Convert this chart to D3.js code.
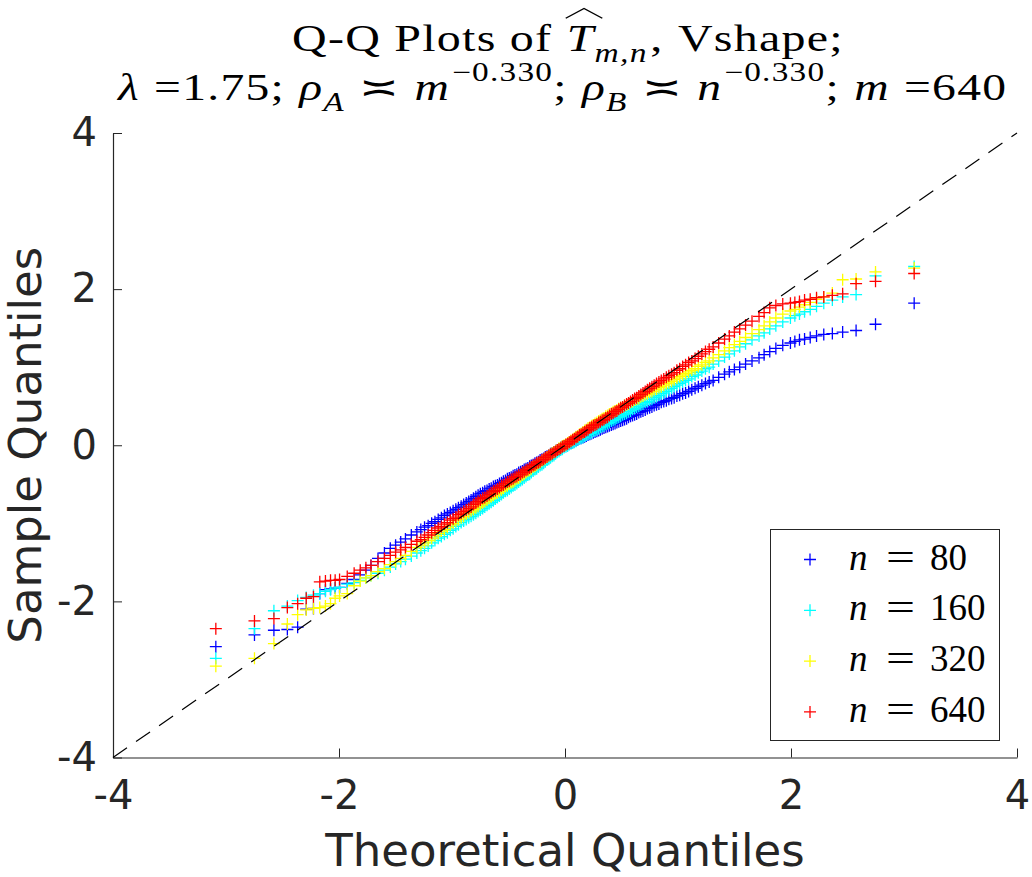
<!DOCTYPE html>
<html>
<head>
<meta charset="utf-8">
<script src="https://cdn.jsdelivr.net/npm/d3@7"></script>
<style>
  body { margin: 0; background: #fff; }
  svg { display: block; }
</style>
</head>
<body>
<svg id="chart"></svg>
<script>
/* global d3 */

// theoretical normal quantiles shared by the four samples (500 points each, thinned)
const theoretical = [
  -3.090, -2.748, -2.576, -2.457, -2.366, -2.290, -2.226, -2.170, -2.120, -2.075,
  -2.034, -1.995, -1.927, -1.866, -1.812, -1.762, -1.717, -1.655, -1.598, -1.546,
  -1.499, -1.454, -1.412, -1.360, -1.311,
  -1.276, -1.243, -1.211, -1.180, -1.151, -1.122, -1.094, -1.067, -1.041, -1.015, -0.990,
  -0.966, -0.943, -0.919, -0.897, -0.874, -0.852, -0.831, -0.810, -0.789, -0.769, -0.749,
  -0.729, -0.710, -0.690, -0.671, -0.653, -0.634, -0.616, -0.598, -0.580, -0.562, -0.545,
  -0.527, -0.510, -0.493, -0.476, -0.459, -0.443, -0.426, -0.410, -0.393, -0.377, -0.361,
  -0.345, -0.329, -0.313, -0.298, -0.282, -0.266, -0.251, -0.235, -0.220, -0.204, -0.189,
  -0.174, -0.159, -0.143, -0.128, -0.113, -0.098, -0.083, -0.068, -0.053, -0.038, -0.023,
  -0.008,
  0.008, 0.023, 0.038, 0.053, 0.068, 0.083, 0.098, 0.113, 0.128, 0.143, 0.159,
  0.174, 0.189, 0.204, 0.220, 0.235, 0.251, 0.266, 0.282, 0.298, 0.313, 0.329,
  0.345, 0.361, 0.377, 0.393, 0.410, 0.426, 0.443, 0.459, 0.476, 0.493, 0.510,
  0.527, 0.545, 0.562, 0.580, 0.598, 0.616, 0.634, 0.653, 0.671, 0.690, 0.710,
  0.729, 0.749, 0.769, 0.789, 0.810, 0.831, 0.852, 0.874, 0.897, 0.919, 0.943,
  0.966, 0.990, 1.015, 1.041, 1.067, 1.094, 1.122, 1.151, 1.180, 1.211, 1.243,
  1.276,
  1.311, 1.360, 1.412, 1.454, 1.499, 1.546, 1.598, 1.655, 1.717, 1.762,
  1.812, 1.866, 1.927, 1.995, 2.034, 2.075, 2.120, 2.170, 2.226, 2.290,
  2.366, 2.457, 2.576, 2.748, 3.090
]

// sample quantiles
const n80 = [
  -2.58, -2.43, -2.37, -2.36, -2.33, -2.10, -2.09, -1.90, -1.85, -1.84,
  -1.83, -1.82, -1.77, -1.72, -1.66, -1.60, -1.54, -1.45, -1.38, -1.32,
  -1.28, -1.24, -1.20, -1.15, -1.11,
  -1.08, -1.05, -1.03, -1.00, -0.98, -0.95, -0.93, -0.90, -0.88, -0.86, -0.84,
  -0.82, -0.80, -0.78, -0.76, -0.74, -0.72, -0.70, -0.68, -0.66, -0.64, -0.62,
  -0.61, -0.59, -0.58, -0.56, -0.55, -0.53, -0.52, -0.51, -0.49, -0.48, -0.46,
  -0.45, -0.43, -0.42, -0.41, -0.39, -0.38, -0.37, -0.35, -0.34, -0.33, -0.31,
  -0.30, -0.29, -0.27, -0.26, -0.25, -0.23, -0.22, -0.21, -0.19, -0.18, -0.17,
  -0.15, -0.14, -0.13, -0.11, -0.10, -0.09, -0.07, -0.06, -0.05, -0.03, -0.02,
  -0.01,
  0.00, 0.01, 0.02, 0.03, 0.04, 0.05, 0.06, 0.07, 0.08, 0.09, 0.10,
  0.11, 0.12, 0.13, 0.14, 0.15, 0.16, 0.17, 0.18, 0.19, 0.20, 0.21,
  0.22, 0.23, 0.24, 0.25, 0.26, 0.27, 0.28, 0.29, 0.30, 0.31, 0.32,
  0.33, 0.34, 0.36, 0.37, 0.38, 0.39, 0.40, 0.42, 0.43, 0.44, 0.45,
  0.47, 0.48, 0.49, 0.51, 0.52, 0.53, 0.55, 0.56, 0.57, 0.59, 0.60,
  0.61, 0.63, 0.64, 0.66, 0.67, 0.69, 0.71, 0.73, 0.75, 0.77, 0.79,
  0.81,
  0.83, 0.87, 0.91, 0.94, 0.97, 1.00, 1.04, 1.08, 1.12, 1.16,
  1.20, 1.24, 1.28, 1.31, 1.33, 1.35, 1.36, 1.38, 1.40, 1.42,
  1.43, 1.45, 1.47, 1.55, 1.82
]

const n160 = [
  -2.73, -2.35, -2.12, -2.06, -1.99, -1.95, -1.92, -1.90, -1.87, -1.85,
  -1.83, -1.82, -1.78, -1.76, -1.73, -1.70, -1.67, -1.64, -1.60, -1.56,
  -1.52, -1.49, -1.46, -1.42, -1.38,
  -1.35, -1.32, -1.29, -1.25, -1.22, -1.19, -1.17, -1.14, -1.12, -1.09, -1.07,
  -1.04, -1.02, -0.99, -0.97, -0.95, -0.93, -0.91, -0.89, -0.87, -0.85, -0.83,
  -0.81, -0.79, -0.77, -0.75, -0.73, -0.71, -0.69, -0.67, -0.65, -0.63, -0.61,
  -0.59, -0.58, -0.56, -0.54, -0.52, -0.51, -0.49, -0.47, -0.45, -0.44, -0.42,
  -0.40, -0.38, -0.37, -0.35, -0.33, -0.31, -0.30, -0.28, -0.26, -0.25, -0.23,
  -0.21, -0.19, -0.18, -0.16, -0.14, -0.13, -0.11, -0.09, -0.08, -0.06, -0.05,
  -0.03,
  -0.02, -0.01, 0.01, 0.02, 0.03, 0.04, 0.05, 0.07, 0.08, 0.09, 0.10,
  0.12, 0.13, 0.14, 0.15, 0.16, 0.18, 0.19, 0.20, 0.21, 0.23, 0.24,
  0.25, 0.27, 0.28, 0.29, 0.31, 0.32, 0.33, 0.35, 0.36, 0.37, 0.39,
  0.40, 0.41, 0.43, 0.44, 0.46, 0.47, 0.49, 0.50, 0.52, 0.53, 0.55,
  0.56, 0.58, 0.59, 0.61, 0.62, 0.64, 0.66, 0.67, 0.69, 0.71, 0.73,
  0.75, 0.77, 0.79, 0.81, 0.83, 0.85, 0.88, 0.90, 0.93, 0.95, 0.98,
  1.00,
  1.04, 1.08, 1.13, 1.17, 1.21, 1.26, 1.30, 1.35, 1.40, 1.44,
  1.49, 1.53, 1.58, 1.63, 1.66, 1.68, 1.71, 1.74, 1.78, 1.82,
  1.86, 1.90, 1.93, 2.17, 2.29
]

const n320 = [
  -2.83, -2.73, -2.54, -2.29, -2.17, -2.11, -2.09, -2.08, -2.06, -2.03,
  -1.96, -1.93, -1.90, -1.80, -1.74, -1.70, -1.67, -1.62, -1.58, -1.53,
  -1.49, -1.45, -1.41, -1.36, -1.31,
  -1.28, -1.25, -1.22, -1.19, -1.16, -1.13, -1.10, -1.08, -1.05, -1.02, -1.00,
  -0.97, -0.95, -0.93, -0.91, -0.88, -0.86, -0.84, -0.82, -0.80, -0.78, -0.76,
  -0.74, -0.72, -0.70, -0.68, -0.66, -0.64, -0.62, -0.61, -0.59, -0.57, -0.55,
  -0.53, -0.52, -0.50, -0.48, -0.47, -0.45, -0.43, -0.42, -0.40, -0.38, -0.37,
  -0.35, -0.33, -0.32, -0.30, -0.28, -0.27, -0.25, -0.23, -0.22, -0.20, -0.18,
  -0.17, -0.15, -0.13, -0.12, -0.10, -0.09, -0.07, -0.06, -0.04, -0.03, -0.01,
  0.00,
  0.01, 0.03, 0.04, 0.06, 0.07, 0.09, 0.11, 0.12, 0.14, 0.15, 0.17,
  0.19, 0.20, 0.22, 0.23, 0.25, 0.26, 0.28, 0.29, 0.31, 0.32, 0.34,
  0.35, 0.37, 0.38, 0.40, 0.41, 0.43, 0.44, 0.45, 0.47, 0.48, 0.49,
  0.51, 0.52, 0.53, 0.55, 0.56, 0.58, 0.59, 0.60, 0.62, 0.63, 0.65,
  0.66, 0.68, 0.69, 0.71, 0.72, 0.74, 0.75, 0.77, 0.79, 0.80, 0.82,
  0.84, 0.86, 0.88, 0.90, 0.92, 0.94, 0.96, 0.98, 1.01, 1.03, 1.06,
  1.08,
  1.12, 1.16, 1.21, 1.25, 1.29, 1.33, 1.38, 1.43, 1.48, 1.53,
  1.58, 1.63, 1.68, 1.72, 1.74, 1.77, 1.80, 1.83, 1.87, 1.90,
  1.95, 2.12, 2.13, 2.22, 2.27
]

const n640 = [
  -2.35, -2.25, -2.22, -2.08, -2.03, -1.96, -1.94, -1.75, -1.74, -1.73,
  -1.73, -1.72, -1.68, -1.64, -1.60, -1.57, -1.54, -1.49, -1.45, -1.41,
  -1.37, -1.34, -1.31, -1.27, -1.23,
  -1.21, -1.18, -1.15, -1.12, -1.09, -1.06, -1.04, -1.01, -0.99, -0.96, -0.94,
  -0.92, -0.89, -0.87, -0.85, -0.83, -0.81, -0.79, -0.76, -0.74, -0.72, -0.70,
  -0.68, -0.67, -0.65, -0.63, -0.61, -0.59, -0.58, -0.56, -0.54, -0.52, -0.51,
  -0.49, -0.47, -0.46, -0.44, -0.43, -0.41, -0.40, -0.38, -0.37, -0.35, -0.34,
  -0.32, -0.31, -0.29, -0.28, -0.26, -0.25, -0.23, -0.22, -0.21, -0.19, -0.18,
  -0.16, -0.15, -0.13, -0.12, -0.11, -0.09, -0.08, -0.06, -0.05, -0.04, -0.02,
  -0.01,
  0.01, 0.02, 0.04, 0.05, 0.07, 0.08, 0.10, 0.11, 0.13, 0.14, 0.16,
  0.17, 0.19, 0.20, 0.22, 0.23, 0.25, 0.26, 0.27, 0.29, 0.30, 0.32,
  0.33, 0.35, 0.36, 0.38, 0.40, 0.41, 0.43, 0.44, 0.46, 0.48, 0.49,
  0.51, 0.53, 0.54, 0.56, 0.58, 0.60, 0.61, 0.63, 0.65, 0.67, 0.69,
  0.71, 0.73, 0.75, 0.77, 0.79, 0.81, 0.83, 0.85, 0.87, 0.89, 0.91,
  0.93, 0.96, 0.98, 1.01, 1.03, 1.06, 1.08, 1.11, 1.14, 1.17, 1.20,
  1.23,
  1.26, 1.31, 1.36, 1.40, 1.45, 1.49, 1.54, 1.59, 1.65, 1.70,
  1.76, 1.79, 1.81, 1.82, 1.83, 1.84, 1.86, 1.87, 1.89, 1.90,
  1.92, 1.94, 2.07, 2.10, 2.20
]

const sampleSizes = ['80', '160', '320', '640']
const seriesColors = ['#0000ff', '#00ffff', '#ffff00', '#ff0000']
const xTicks = [-4, -2, 0, 2, 4]
const yTicks = [-4, -2, 0, 2, 4]
const refLine = [-4, 4]

const width = 1032
const height = 877
const axisColor = '#262626'
const serif = "'Liberation Serif', 'DejaVu Serif', serif"
const sans = "'DejaVu Sans', sans-serif"

const svg = d3.select('#chart')
  .attr('width', width)
  .attr('height', height)
  .style('background', '#fff')

const x = d3.scaleLinear().domain([-4, 4]).range([113, 1017])
const y = d3.scaleLinear().domain([-4, 4]).range([757.5, 133])

function plusPath (px, py, r) {
  return `M${px - r},${py}h${2 * r}M${px},${py - r}v${2 * r}`
}

function drawAxes () {
  const xAxis = svg.append('g')
    .attr('transform', `translate(0,${y(-4)})`)
    .call(d3.axisBottom(x).tickValues(xTicks).tickFormat(d => String(d))
      .tickSize(-9).tickSizeOuter(0).tickPadding(23))

  const yAxis = svg.append('g')
    .attr('transform', `translate(${x(-4)},0)`)
    .call(d3.axisLeft(y).tickValues(yTicks).tickFormat(d => String(d))
      .tickSize(-9).tickSizeOuter(0).tickPadding(16))

  ;[xAxis, yAxis].forEach(g => {
    g.select('.domain').attr('stroke', axisColor).attr('stroke-width', 1.2)
    g.selectAll('.tick line').attr('stroke', axisColor).attr('stroke-width', 1)
    g.selectAll('.tick text')
      .attr('fill', axisColor)
      .style('font-family', sans)
      .style('font-size', '40px')
  })

  svg.append('text')
    .attr('x', x(0))
    .attr('y', 866)
    .attr('text-anchor', 'middle')
    .attr('fill', axisColor)
    .style('font-family', sans)
    .style('font-size', '45px')
    .text('Theoretical Quantiles')

  svg.append('text')
    .attr('transform', `translate(41,${y(0)}) rotate(-90)`)
    .attr('text-anchor', 'middle')
    .attr('fill', axisColor)
    .style('font-family', sans)
    .style('font-size', '45px')
    .text('Sample Quantiles')
}

function drawSeries () {
  const samples = [n80, n160, n320, n640]
  samples.forEach((values, i) => {
    const points = values.map((v, j) => ({ q: theoretical[j], s: v }))
    svg.append('g')
      .attr('stroke', seriesColors[i])
      .attr('stroke-width', 1.3)
      .attr('fill', 'none')
      .selectAll('path').data(points).enter().append('path')
      .attr('d', d => plusPath(x(d.q), y(d.s), 6))
  })

  // reference line sits on top of the markers
  svg.append('line')
    .attr('x1', x(refLine[0]))
    .attr('y1', y(refLine[0]))
    .attr('x2', x(refLine[1]))
    .attr('y2', y(refLine[1]))
    .attr('stroke', '#000')
    .attr('stroke-width', 1.2)
    .attr('stroke-dasharray', '17,11')
}

function drawLegend () {
  const g = svg.append('g')
  g.append('rect')
    .attr('x', 770.5)
    .attr('y', 529.5)
    .attr('width', 229)
    .attr('height', 211)
    .attr('fill', '#fff')
    .attr('stroke', axisColor)
    .attr('stroke-width', 1)

  sampleSizes.forEach((label, i) => {
    const cy = 559.5 + i * 50.8
    g.append('path')
      .attr('d', plusPath(810, cy, 6))
      .attr('stroke', seriesColors[i])
      .attr('stroke-width', 1.3)
    const t = g.append('text')
      .attr('y', cy + 10)
      .attr('fill', '#000')
      .style('font-family', serif)
      .style('font-size', '37px')
    t.append('tspan').attr('x', 849).style('font-style', 'italic').text('n')
    t.append('tspan').attr('x', 886).attr('textLength', 29)
      .attr('lengthAdjust', 'spacingAndGlyphs').text('=')
    t.append('tspan').attr('x', 930).text(label)
  })
}

// one line of TeX-like title, pieces laid end to end; gap is extra space in em
function richLine (g, pieces, size) {
  let cursor = 0
  pieces.forEach(p => {
    const small = p.sub || p.sup
    const t = g.append('text')
      .attr('x', cursor)
      .attr('y', p.sub ? size * 0.3 : p.sup ? -size * 0.5 : 0)
      .style('font-size', (small ? size * 0.7 : size) + 'px')
      .style('font-style', p.it ? 'italic' : 'normal')
      .style('letter-spacing', '1px')
      .style('white-space', 'pre')
      .text(p.t)
    const w = t.node().getComputedTextLength()
    if (p.hat) {
      const x0 = cursor - size * 0.02
      const x1 = cursor + w + size * 0.16
      g.append('path')
        .attr('d', `M${x0},${-size * 0.86}L${(x0 + x1) / 2},${-size * 1.12}L${x1},${-size * 0.86}`)
        .attr('fill', 'none')
        .attr('stroke', '#000')
        .attr('stroke-width', 1.1)
    }
    cursor += w + (p.gap || 0) * size
  })
  return cursor
}

function drawTitleLine (pieces, left, right, baseline, size) {
  const probe = svg.append('g').style('font-family', serif)
  const w = richLine(probe, pieces, size)
  probe.remove()
  const k = (right - left) / w
  const g = svg.append('g')
    .attr('transform', `translate(${left},${baseline}) scale(${k},1)`)
    .attr('fill', '#000')
    .style('font-family', serif)
  richLine(g, pieces, size)
}

const titleLine1 = [
  { t: 'Q-Q Plots of', gap: 0.3 },
  { t: 'T', it: true, hat: true },
  { t: 'm,n', it: true, sub: true, gap: 0.05 },
  { t: ',', gap: 0.3 },
  { t: 'Vshape;' }
]

const titleLine2 = [
  { t: 'λ', it: true, gap: 0.3 },
  { t: '=1.75;', gap: 0.3 },
  { t: 'ρ', it: true },
  { t: 'A', it: true, sub: true, gap: 0.3 },
  { t: '≍', gap: 0.3 },
  { t: 'm', it: true, gap: 0.04 },
  { t: '−0.330', sup: true },
  { t: ';', gap: 0.3 },
  { t: 'ρ', it: true },
  { t: 'B', it: true, sub: true, gap: 0.3 },
  { t: '≍', gap: 0.3 },
  { t: 'n', it: true, gap: 0.04 },
  { t: '−0.330', sup: true },
  { t: ';', gap: 0.3 },
  { t: 'm', it: true, gap: 0.3 },
  { t: '=640' }
]

drawAxes()
drawSeries()
drawLegend()
drawTitleLine(titleLine1, 292, 844, 51, 38)
drawTitleLine(titleLine2, 118, 1008, 100, 38)
</script>
</body>
</html>
